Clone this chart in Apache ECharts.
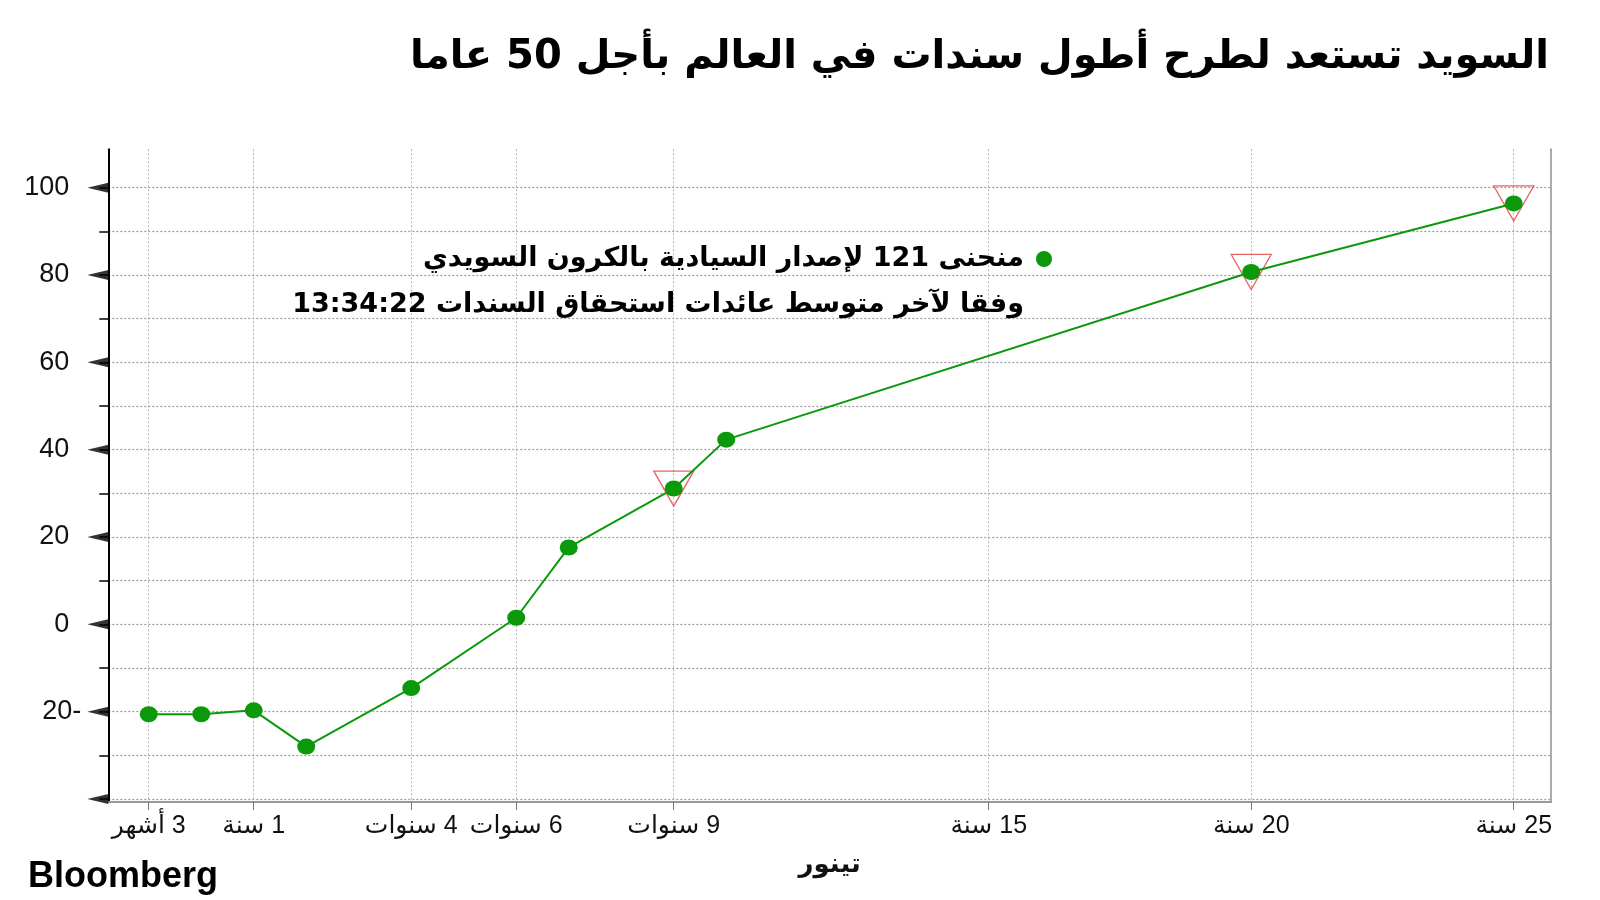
<!DOCTYPE html>
<html><head><meta charset="utf-8">
<script src="https://cdn.jsdelivr.net/npm/echarts@6/dist/echarts.min.js"></script>
<style>html,body{margin:0;padding:0;background:#fff}#c{width:1600px;height:900px}</style>
</head><body><div id="c"></div>
<script>
// ---- data ----
const tenorPos = [0, 1, 2, 3, 5, 7, 8, 10, 11, 21, 26];
const tenorNames = ['3 أشهر', '6 أشهر', '1 سنة', '2 سنة', '4 سنوات', '6 سنوات', '7 سنوات', '9 سنوات', '10 سنوات', '20 سنة', '25 سنة'];
const yieldSpread = [-20.6, -20.6, -19.7, -28.0, -14.6, 1.5, 17.6, 31.1, 42.3, 80.7, 96.4];
const flagged = [null, null, null, null, null, null, null, 31.1, null, 80.7, 96.4];
const xTickPos = [0, 2, 5, 7, 10, 16, 21, 26];
const xTickLabels = ['3 أشهر', '1 سنة', '4 سنوات', '6 سنوات', '9 سنوات', '15 سنة', '20 سنة', '25 سنة'];
const yMajor = [-40, -20, 0, 20, 40, 60, 80, 100];
const yLabelVals = [-20, 0, 20, 40, 60, 80, 100];
const yMinor = [-40, -30, -20, -10, 0, 10, 20, 30, 40, 50, 60, 70, 80, 90, 100];
const titleText = 'السويد تستعد لطرح أطول سندات في العالم بأجل 50 عاما';
const seriesName = 'منحنى 121 لإصدار السيادية بالكرون السويدي\nوفقا لآخر متوسط عائدات استحقاق السندات 13:34:22';
const xName = 'تينور';
const sourceText = 'Bloomberg';

const X_MIN = -0.77, X_MAX = 26.71, Y_MIN = -40.7, Y_MAX = 108.8;
const GREEN = '#0b990b';
const AR = "'DejaVu Sans', sans-serif";

const chart = echarts.init(document.getElementById('c'));
chart.setOption({
  animation: false,
  backgroundColor: '#fff',
  title: [
    { text: titleText, right: 51, top: 38, padding: 0,
      textStyle: { fontFamily: AR, fontWeight: 'bold', fontSize: 40, color: '#000' } },
    { text: sourceText, left: 28, top: 859, padding: 0,
      textStyle: { fontFamily: "'Liberation Sans', Arial, sans-serif", fontWeight: 'bold', fontSize: 36, color: '#000' } }
  ],
  legend: {
    data: [seriesName], right: 548, top: 190, padding: 0, align: 'right',
    icon: 'circle', itemWidth: 30, itemHeight: 16,
    itemStyle: { color: GREEN },
    formatter: name => '\n' + name,
    textStyle: { fontFamily: AR, fontWeight: 'bold', fontSize: 27, color: '#000', lineHeight: 46 }
  },
  grid: { left: 108.3, right: 49, top: 149.3, bottom: 98 },
  xAxis: {
    type: 'value', min: X_MIN, max: X_MAX,
    axisLine: { onZero: false, lineStyle: { color: '#999', width: 2 } },
    axisTick: { customValues: xTickPos, length: 8, lineStyle: { color: '#777', width: 1 } },
    axisLabel: {
      customValues: xTickPos, margin: 12, fontSize: 25, color: '#111',
      fontFamily: "'Liberation Sans', 'DejaVu Sans', sans-serif",
      formatter: v => '\u200F' + xTickLabels[xTickPos.indexOf(v)]
    },
    splitLine: { show: true, lineStyle: { color: '#b5b5b5', type: [2, 2], width: 1 } },
    name: xName, nameLocation: 'middle', nameGap: 50,
    nameTextStyle: { fontFamily: AR, fontWeight: 'bold', fontSize: 26, color: '#111' }
  },
  yAxis: [{
    type: 'value', min: Y_MIN, max: Y_MAX, position: 'left',
    axisLine: { show: true, onZero: false, lineStyle: { color: '#000', width: 2 } },
    axisTick: { show: true, customValues: yMinor, length: 9, lineStyle: { color: '#000', width: 1.5 } },
    axisLabel: {
      customValues: yLabelVals, margin: 27, fontSize: 27, color: '#111',
      fontFamily: "'Liberation Sans Narrow', 'Liberation Sans', sans-serif",
      formatter: v => v < 0 ? '\u200F' + v : v + '{sp|}',
      rich: { sp: { width: 12 } }
    },
    splitLine: { show: true, lineStyle: { color: '#9a9a9a', type: [2, 2], width: 1.2 } }
  }, {
    type: 'value', min: Y_MIN, max: Y_MAX, position: 'right',
    axisLine: { show: true, onZero: false, lineStyle: { color: '#aaa', width: 2 } },
    axisTick: { show: false }, axisLabel: { show: false }, splitLine: { show: false }
  }],
  series: [
    {
      name: 'axisMarks', type: 'scatter', silent: true, clip: false, z: 6,
      data: yMajor.map(v => [X_MIN, v]),
      symbol: 'triangle', symbolSize: [10, 21], symbolRotate: 90, symbolOffset: [-10.5, 0],
      itemStyle: { color: '#000' }
    },
    {
      name: 'flags', type: 'scatter', silent: true, z: 2,
      data: tenorPos.map((x, i) => flagged[i] == null ? null : [x, flagged[i]]).filter(d => d),
      symbol: 'triangle', symbolSize: [40, 35], symbolRotate: 180,
      itemStyle: { color: 'rgba(0,0,0,0)', borderColor: '#e43b3b', borderWidth: 1.3 }
    },
    {
      name: seriesName, type: 'line', z: 3,
      data: tenorPos.map((x, i) => [x, yieldSpread[i]]),
      symbol: 'circle', symbolSize: [18, 16], showAllSymbol: true,
      lineStyle: { color: GREEN, width: 2 },
      itemStyle: { color: GREEN }
    }
  ]
});
</script></body></html>
